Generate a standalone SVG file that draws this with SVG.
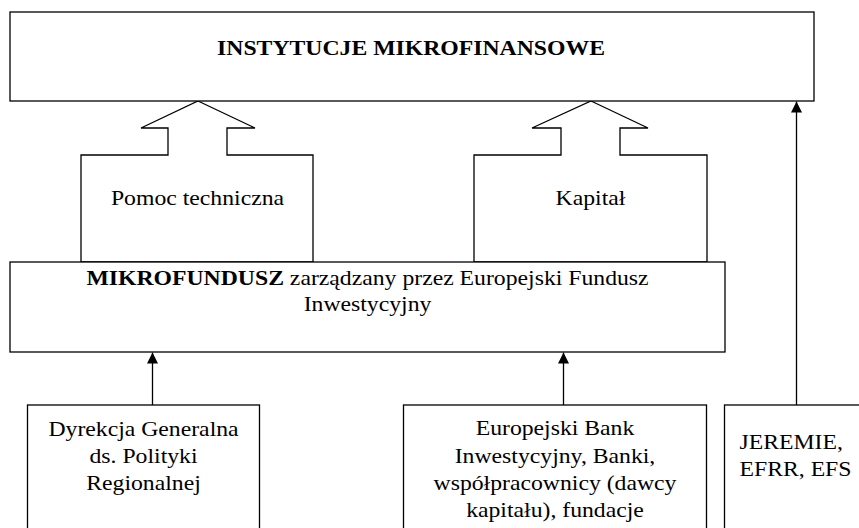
<svg xmlns="http://www.w3.org/2000/svg" width="859" height="528" viewBox="0 0 859 528">
  <style>
    .box { fill: #ffffff; stroke: #000000; stroke-width: 1.3; }
    .blk { fill: #ffffff; stroke: #000000; stroke-width: 1.3; stroke-linejoin: miter; }
    .ln { fill: none; stroke: #000000; stroke-width: 1.3; marker-end: url(#ah); }
    .t { font-family: "Liberation Serif", "Times New Roman", serif; font-size: 20.5px; fill: #000000; }
    .c { text-anchor: middle; }
    .b { font-weight: bold; }
  </style>
  <defs>
    <marker id="ah" markerWidth="11" markerHeight="11" refX="11" refY="5.5" orient="auto" markerUnits="userSpaceOnUse">
      <path d="M0,0 L11,5.5 L0,11 Z" fill="#000000"/>
    </marker>
  </defs>
  <rect width="859" height="528" fill="#ffffff"/>

  <g id="connectors">
    <g id="arrow-pomoc">
      <polygon class="blk" points="198,101 255,128 227,128 227,155 313,155 313,262 81,262 81,155 168,155 168,128 141,128"/>
      <text class="t c" transform="translate(197.5 0) scale(1.157 1)" x="0" y="205">Pomoc techniczna</text>
    </g>
    <g id="arrow-kapital">
      <polygon class="blk" points="591,101 648,128 620,128 620,155 707,155 707,262 474,262 474,155 561,155 561,128 532,128"/>
      <text class="t c" transform="translate(590.5 0) scale(1.157 1)" x="0" y="205">Kapitał</text>
    </g>
    <line class="ln" x1="152.5" y1="405" x2="152.5" y2="352.5"/>
    <line class="ln" x1="563.5" y1="405" x2="563.5" y2="352.5"/>
    <line class="ln" x1="796.5" y1="405" x2="796.5" y2="101.5"/>
  </g>

  <g id="instytucje">
    <rect class="box" x="10" y="12" width="804" height="89"/>
    <text class="t c b" transform="translate(411 0) scale(1.157 1)" x="0" y="55">INSTYTUCJE MIKROFINANSOWE</text>
  </g>

  <g id="mikrofundusz">
    <rect class="box" x="10" y="262" width="715" height="90"/>
    <text class="t c" transform="translate(367.5 0) scale(1.157 1)" x="0" y="285"><tspan class="b">MIKROFUNDUSZ</tspan> zarządzany przez Europejski Fundusz</text>
    <text class="t c" transform="translate(367.5 0) scale(1.157 1)" x="0" y="311">Inwestycyjny</text>
  </g>

  <g id="dyrekcja">
    <rect class="box" x="27.5" y="405" width="232" height="140"/>
    <text class="t c" transform="translate(143.5 0) scale(1.157 1)" x="0" y="436">Dyrekcja Generalna</text>
    <text class="t c" transform="translate(143.5 0) scale(1.157 1)" x="0" y="463">ds. Polityki</text>
    <text class="t c" transform="translate(143.5 0) scale(1.157 1)" x="0" y="490">Regionalnej</text>
  </g>

  <g id="ebi">
    <rect class="box" x="403.5" y="405" width="303" height="140"/>
    <text class="t c" transform="translate(555 0) scale(1.157 1)" x="0" y="435">Europejski Bank</text>
    <text class="t c" transform="translate(555 0) scale(1.157 1)" x="0" y="463">Inwestycyjny, Banki,</text>
    <text class="t c" transform="translate(555 0) scale(1.157 1)" x="0" y="490">współpracownicy (dawcy</text>
    <text class="t c" transform="translate(555 0) scale(1.157 1)" x="0" y="517">kapitału), fundacje</text>
  </g>

  <g id="jeremie">
    <rect class="box" x="724.5" y="405" width="150" height="140"/>
    <text class="t" transform="translate(739.5 0) scale(1.157 1)" x="0" y="449">JEREMIE,</text>
    <text class="t" transform="translate(739.5 0) scale(1.157 1)" x="0" y="476">EFRR, EFS</text>
  </g>
</svg>
